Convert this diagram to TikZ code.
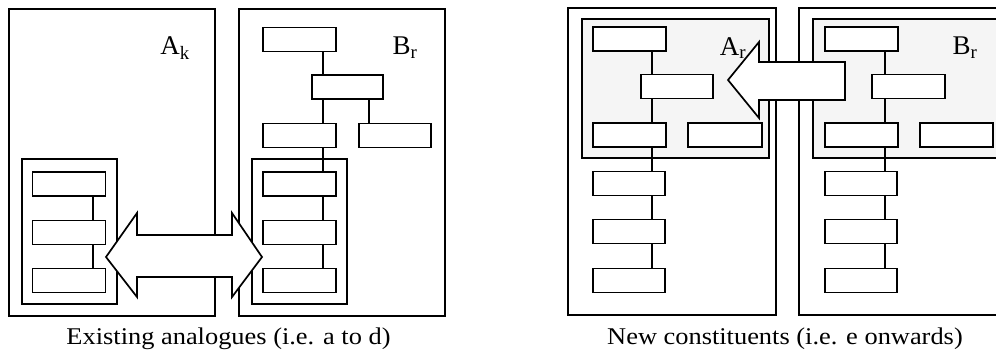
\documentclass[tikz,border=0pt]{standalone}
\usepackage{fontspec}
\usepackage{graphicx}
\setmainfont{Liberation Serif}
\begin{document}
\begin{tikzpicture}[x=1pt,y=-1pt,
  frame/.style={draw=black,line width=1.7pt,fill=white},
  shadebox/.style={draw=black,line width=1.7pt,fill=gray!8},
  cbox/.style={draw=black,line width=1.7pt,fill=white,inner sep=0pt,minimum width=73pt,minimum height=24pt},
  link/.style={draw=black,line width=1.3pt},
  lbl/.style={inner sep=0pt,font=\fontsize{27}{30}\selectfont},
  captext/.style={inner sep=0pt,font=\fontsize{24}{28}\selectfont},
  bigarrow/.style={draw=black,line width=1.7pt,fill=white,line join=miter}]
\useasboundingbox (0,0) rectangle (996,356);
\begin{scope}
\clip (0,0) rectangle (996,356);
% ---------- left figure ----------
\draw[frame] (9,9) rectangle (215,316);
\draw[frame] (239,9) rectangle (445,316);
\draw[frame] (22,159) rectangle (117,304);
\draw[frame] (252,159) rectangle (347,304);
\coordinate (sk) at (93,0);
\coordinate (sb) at (323,0);
\coordinate (sb2) at (369,0);
\node[cbox] (k1) at (69,184) {};
\node[cbox] (k2) at (69,232.5) {};
\node[cbox] (k3) at (69,280.5) {};
\node[cbox] (t1) at (299.5,39.5) {};
\node[cbox,minimum width=71pt] (t2) at (347.5,87) {};
\node[cbox] (t3) at (299.5,135.5) {};
\node[cbox,minimum width=72pt] (t4) at (395,135.5) {};
\node[cbox] (l1) at (299.5,184) {};
\node[cbox] (l2) at (299.5,232.5) {};
\node[cbox] (l3) at (299.5,280.5) {};
\draw[link] (k1.south -| sk) -- (k2.north -| sk);
\draw[link] (k2.south -| sk) -- (k3.north -| sk);
\draw[link] (t1.south -| sb) -- (t2.north -| sb);
\draw[link] (t2.south -| sb) -- (t3.north -| sb);
\draw[link] (t2.south -| sb2) -- (t4.north -| sb2);
\draw[link] (t3.south -| sb) -- (l1.north -| sb);
\draw[link] (l1.south -| sb) -- (l2.north -| sb);
\draw[link] (l2.south -| sb) -- (l3.north -| sb);
\node[lbl] (ak) at (175,48) {A\textsubscript{k}};
\node[lbl] (br1) at (405,48) {B\textsubscript{r}};
\draw[bigarrow] (106,257) -- (137,213) -- (137,235) -- (232,235) -- (232,213)
  -- (262,257) -- (232,297) -- (232,277) -- (137,277) -- (137,297) -- cycle;
% ---------- right figure ----------
\draw[frame] (568,8) rectangle (776,315);
\draw[shadebox] (582,19) rectangle (769,158);
\draw[frame] (799,8) rectangle (1010,315);
\draw[shadebox] (813,19) rectangle (1010,158);
\coordinate (sa) at (652,0);
\coordinate (sc) at (885,0);
\node[cbox] (u1) at (629.5,39) {};
\node[cbox,minimum width=72pt] (u2) at (677,86.5) {};
\node[cbox] (u3) at (629.5,135) {};
\node[cbox,minimum width=74pt] (u4) at (725,135) {};
\node[cbox,minimum width=72pt] (v1) at (629,183.5) {};
\node[cbox,minimum width=72pt] (v2) at (629,231.5) {};
\node[cbox,minimum width=72pt] (v3) at (629,280.5) {};
\draw[link] (u1.south -| sa) -- (u2.north -| sa);
\draw[link] (u2.south -| sa) -- (u3.north -| sa);
\draw[link] (u3.south -| sa) -- (v1.north -| sa);
\draw[link] (v1.south -| sa) -- (v2.north -| sa);
\draw[link] (v2.south -| sa) -- (v3.north -| sa);
\node[cbox] (w1) at (861.5,39) {};
\node[cbox] (w2) at (908.5,86.5) {};
\node[cbox] (w3) at (861.5,135) {};
\node[cbox] (w4) at (956.5,135) {};
\node[cbox,minimum width=72pt] (x1) at (861,183.5) {};
\node[cbox,minimum width=72pt] (x2) at (861,231.5) {};
\node[cbox,minimum width=72pt] (x3) at (861,280.5) {};
\draw[link] (w1.south -| sc) -- (w2.north -| sc);
\draw[link] (w2.south -| sc) -- (w3.north -| sc);
\draw[link] (w3.south -| sc) -- (x1.north -| sc);
\draw[link] (x1.south -| sc) -- (x2.north -| sc);
\draw[link] (x2.south -| sc) -- (x3.north -| sc);
\node[lbl] (ar) at (733,48) {A\textsubscript{r}};
\node[lbl] (br2) at (965,48) {B\textsubscript{r}};
\draw[bigarrow] (728,80) -- (759,42) -- (759,62) -- (845,62) -- (845,100)
  -- (759,100) -- (759,118) -- cycle;
\end{scope}
% ---------- captions ----------
\node[captext] (c1) at (228.5,339) {\scalebox{1.1}[1]{Existing analogues (i.e. a to d)}};
\node[captext] (c2) at (785,339) {\scalebox{1.1}[1]{New constituents (i.e. e onwards)}};
\end{tikzpicture}
\end{document}
